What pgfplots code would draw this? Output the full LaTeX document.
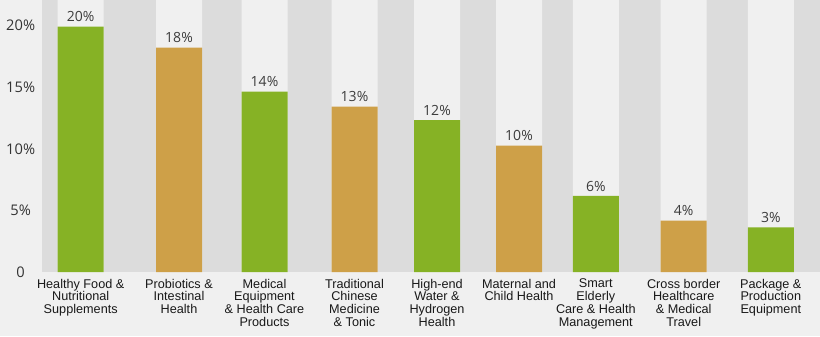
\documentclass[border=0pt]{standalone}
\usepackage{pgfplots}
\pgfplotsset{compat=1.18}
\usepackage{fontspec}
\setmainfont{Liberation Sans}
\newfontfamily\numfont{Open Sans}
\definecolor{pagebg}{HTML}{F0F0F0}
\definecolor{stripe}{HTML}{DCDCDC}
\definecolor{barG}{HTML}{86B225}
\definecolor{barO}{HTML}{CEA048}
\definecolor{tickc}{HTML}{333333}
\definecolor{valc}{HTML}{3C3C3C}
\begin{document}
\begin{tikzpicture}
\fill[pagebg] (-31.5pt,-48pt) rectangle (583.5pt,204pt);
\useasboundingbox (-31.5pt,-48pt) rectangle (583.5pt,204pt);
\begin{axis}[
  at={(0,0)}, anchor=south west,
  scale only axis, width=583.5pt, height=204pt,
  xmin=42, xmax=820, ymin=0, ymax=22.07,
  axis background/.style={fill=stripe},
  axis line style={draw=none},
  tick style={draw=none},
  ytick={0,5,10,15,20},
  yticklabels={0,5\%,10\%,15\%,20\%},
  yticklabel style={font=\numfont\fontsize{11}{13}\selectfont, text=tickc, anchor=center, xshift=-16pt},
  xtick={80.7,179,264.5,354.5,437,519,595.8,683.7,770.8},
  xticklabels={
    {Healthy Food \&\\Nutritional\\Supplements},
    {Probiotics \&\\Intestinal\\Health},
    {Medical\\Equipment\\\& Health Care\\Products},
    {Traditional\\Chinese\\Medicine\\\& Tonic},
    {High-end\\Water \&\\Hydrogen\\Health},
    {Maternal and\\Child Health},
    {Smart\\Elderly\\Care \& Health\\Management},
    {Cross border\\Healthcare\\\& Medical\\Travel},
    {Package \&\\Production\\Equipment}},
  xticklabel style={align=center, font=\fontsize{9.5}{9.6}\selectfont, text=black!90, inner sep=1pt, yshift=-4pt},
  every node near coord/.append style={font=\numfont\fontsize{10.5}{12}\selectfont, text=valc},
]
% light columns behind the bars
\addplot[ybar, bar width=46, bar shift=0pt, fill=pagebg, draw=none] coordinates {
  (80.7,22.07) (179,22.07) (264.5,22.07) (354.5,22.07) (437,22.07)
  (519,22.07) (595.8,22.07) (683.7,22.07) (770.8,22.07)};
% green bars
\addplot[ybar, bar width=46, bar shift=0pt, fill=barG, draw=none,
  nodes near coords, point meta=explicit symbolic] coordinates {
  (80.7,19.9) [20\%]
  (264.5,14.63) [14\%]
  (437,12.33) [12\%]
  (595.8,6.17) [6\%]
  (770.8,3.63) [3\%]};
% orange bars
\addplot[ybar, bar width=46, bar shift=0pt, fill=barO, draw=none,
  nodes near coords, point meta=explicit symbolic] coordinates {
  (179,18.2) [18\%]
  (354.5,13.41) [13\%]
  (519,10.25) [10\%]
  (683.7,4.16) [4\%]};
\end{axis}
\end{tikzpicture}
\end{document}
